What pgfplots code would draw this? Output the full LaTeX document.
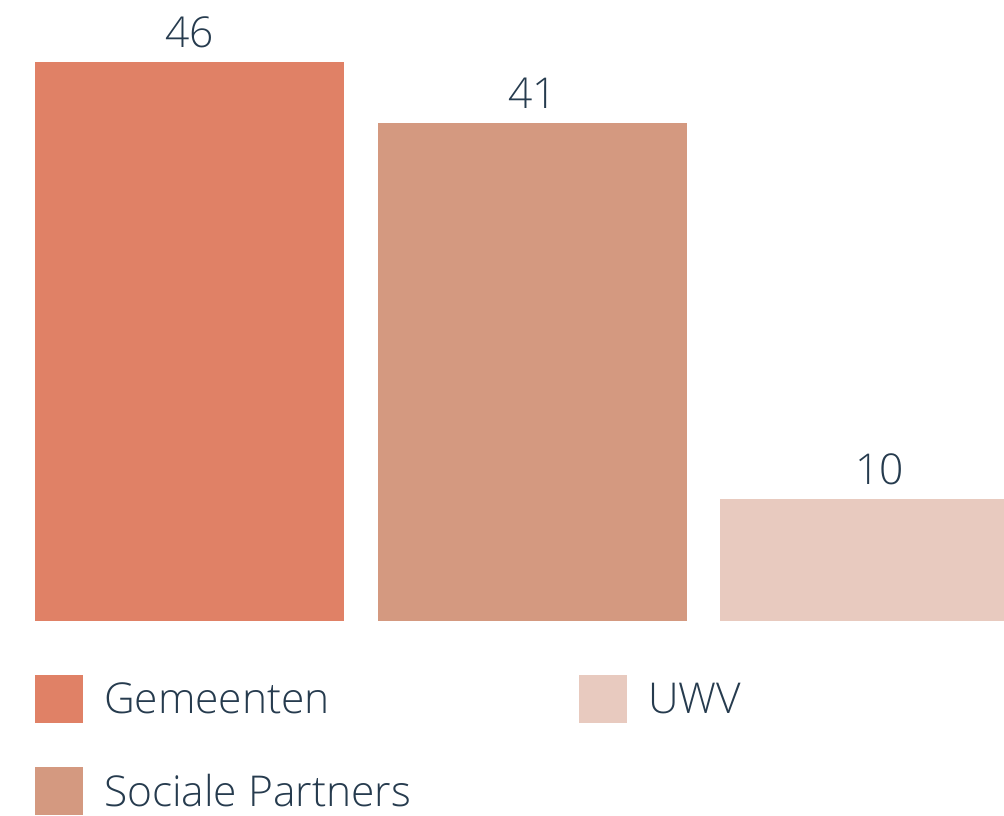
\documentclass[border=0pt]{standalone}
\usepackage{fontspec}
\setmainfont{Open Sans}[UprightFont=* Light]
\usepackage{pgfplots}
\pgfplotsset{compat=1.18}
\definecolor{cGem}{HTML}{E08166}
\definecolor{cSoc}{HTML}{D49980}
\definecolor{cUwv}{HTML}{E8CABF}
\definecolor{cTxt}{HTML}{263B4E}
\newcommand{\bigfont}{\fontsize{42.5bp}{51bp}\selectfont}
\begin{document}
\begin{tikzpicture}
\useasboundingbox (0,0) rectangle (1004bp,816bp);
\begin{axis}[
  at={(0,0)}, anchor=south west,
  scale only axis, width=1004bp, height=816bp,
  xmin=0, xmax=1004, ymin=-16.05, ymax=51.11,
  hide axis, clip=true,
  ybar, bar width=309, bar shift=0pt,
  /pgf/number format/assume math mode=true,
  nodes near coords,
  every node near coord/.append style={font=\bigfont, text=cTxt, inner sep=0pt, yshift=14bp, anchor=south},
  legend columns=2, transpose legend,
  legend image code/.code={\fill[#1] (0bp,-24bp) rectangle (48bp,24bp);},
  legend style={draw=none, fill=none, inner sep=0pt, outer sep=0pt,
    font=\bigfont, text=cTxt, at={(axis cs:35,-4.44)}, anchor=north west,
    column sep=0pt, row sep=44bp,
    nodes={inner sep=0pt, outer sep=0pt}},
  legend cell align=left,
]
\addplot[fill=cGem, draw=none] coordinates {(189.5,46)};
\addlegendentry{\hspace*{21bp}Gemeenten}
\addplot[fill=cSoc, draw=none] coordinates {(532.5,41)};
\addlegendentry{\hspace*{21bp}Sociale Partners\rule{168bp}{0pt}}
\addplot[fill=cUwv, draw=none, every node near coord/.append style={xshift=5bp}] coordinates {(874.5,10)};
\addlegendentry{\hspace*{21bp}UWV}
\end{axis}
\end{tikzpicture}
\end{document}
